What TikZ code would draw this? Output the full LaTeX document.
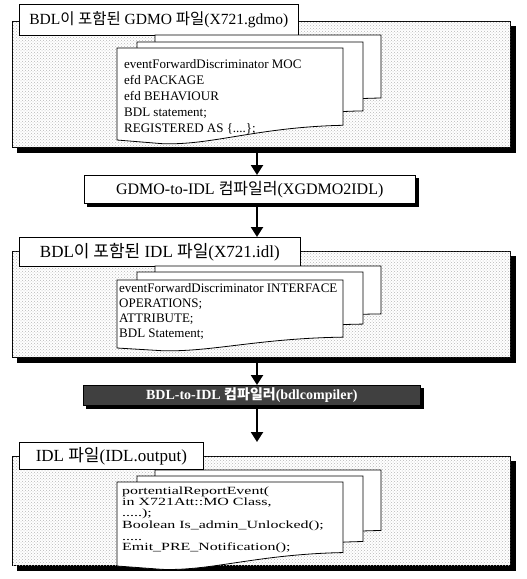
\documentclass[tikz,border=0pt]{standalone}
\usepackage{fontspec}
\setmainfont{Liberation Serif}
\newfontfamily\kr{Noto Sans CJK KR}
\newfontfamily\widefont{Liberation Serif}[FakeStretch=1.45]
\usetikzlibrary{patterns}
\usetikzlibrary{arrows.meta}

\newcommand\docsheet[4]{%
  \begin{scope}[shift={(#1,#2)},xscale=#3,yscale=#4]
    \filldraw[sheet] (0,0) -- (1,0) -- (1,0.84)
      .. controls (0.62,0.86) and (0.42,1.06) .. (0.2,1.04)
      .. controls (0.1,1.03) .. (0,1) -- cycle;
  \end{scope}}
% thick right and bottom edge of a box
\newcommand\boxedge[2]{%
  \draw[edgeline,line width=#2pt] ([shift={(#2/2,#2)}]#1.north east) |- ([shift={(#2,#2/2)}]#1.south west);}

\begin{document}
\begin{tikzpicture}[x=1pt,y=-1pt,
    panel/.style={draw,fill=white,line width=0.7pt,anchor=north west,inner sep=0pt,
      postaction={pattern=crosshatch dots,pattern color=black!28}},
    tab/.style={draw,fill=white,line width=0.7pt,anchor=north west,inner sep=0pt},
    sheet/.style={draw,fill=white,line width=0.8pt},
    listing/.style={anchor=north west,inner sep=0pt,align=left},
    compiler/.style={draw,line width=0.5pt,anchor=north west,inner sep=0pt},
    edgeline/.style={draw=black,line cap=butt,line join=miter},
    flow/.style={line width=2.2pt,-{Triangle[length=10pt,width=12pt]}}]
  \fill[white] (0,0) rectangle (527,579);
  \useasboundingbox (0,0) rectangle (527,579);
  \coordinate (col) at (257,0);

  % GDMO file
  \node[panel,minimum width=498pt,minimum height=126pt] (panel1) at (12,21) {};
  \boxedge{panel1}{5}
  \node[tab,minimum width=279pt,minimum height=31pt,font=\fontsize{15.5}{15.5}\selectfont] (tab1) at (19,4)
    {BDL{\kr 이 포함된} GDMO {\kr 파일}(X721.gdmo)};
  \docsheet{155}{35}{226}{75}
  \docsheet{137}{42}{226}{82}
  \docsheet{117}{48}{226}{92}
  \node[listing,font=\fontsize{13}{16}\selectfont] (code1) at (124,59)
    {eventForwardDiscriminator MOC\\efd PACKAGE\\efd BEHAVIOUR\\BDL statement;\\REGISTERED AS \{....\};};

  \node[compiler,fill=white,minimum width=331pt,minimum height=28pt,font=\fontsize{16}{16}\selectfont] (box1) at (84,175)
    {GDMO-to-IDL {\kr 컴파일러}(XGDMO2IDL)};
  \boxedge{box1}{3}

  % IDL file with BDL
  \node[panel,minimum width=498pt,minimum height=106pt] (panel2) at (12,251) {};
  \boxedge{panel2}{5}
  \node[tab,minimum width=281pt,minimum height=29pt,font=\fontsize{17}{17}\selectfont] (tab2) at (19,237)
    {BDL{\kr 이 포함된} IDL {\kr 파일}(X721.idl)};
  \docsheet{155}{266}{226}{57}
  \docsheet{137}{272}{226}{62}
  \docsheet{117}{280}{226}{68}
  \node[listing,font=\fontsize{13}{15}\selectfont] (code2) at (119,283.5)
    {eventForwardDiscriminator INTERFACE\\OPERATIONS;\\ATTRIBUTE;\\BDL Statement;};

  \node[compiler,fill=black!75,text=white,minimum width=337pt,minimum height=20pt,font=\fontsize{14}{14}\selectfont\bfseries] (box2) at (83,385)
    {BDL-to-IDL {\kr\bfseries 컴파일러}(bdlcompiler)};
  \boxedge{box2}{3}

  % IDL output
  \node[panel,minimum width=498pt,minimum height=109pt] (panel3) at (12,456) {};
  \boxedge{panel3}{5}
  \node[tab,minimum width=184pt,minimum height=27pt,font=\fontsize{17}{17}\selectfont] (tab3) at (19,442)
    {IDL {\kr 파일}(IDL.output)};
  \docsheet{155}{470}{226}{72}
  \docsheet{137}{476}{226}{78}
  \docsheet{117}{482}{226}{84}
  \node[listing,font=\widefont\fontsize{11}{10.6}\selectfont] (code3) at (122,487)
    {portentialReportEvent(\\in X721Att::MO Class,\\.....);\\[1.5pt]Boolean Is\_admin\_Unlocked();\\[1.5pt].....\\Emit\_PRE\_Notification();};

  \draw[flow] (panel1.south -| col) -- (box1.north -| col);
  \draw[flow] (box1.south -| col) -- (tab2.north -| col);
  \draw[flow] (panel2.south -| col) -- (box2.north -| col);
  \draw[flow] (box2.south -| col) -- (tab3.north -| col);
\end{tikzpicture}
\end{document}
